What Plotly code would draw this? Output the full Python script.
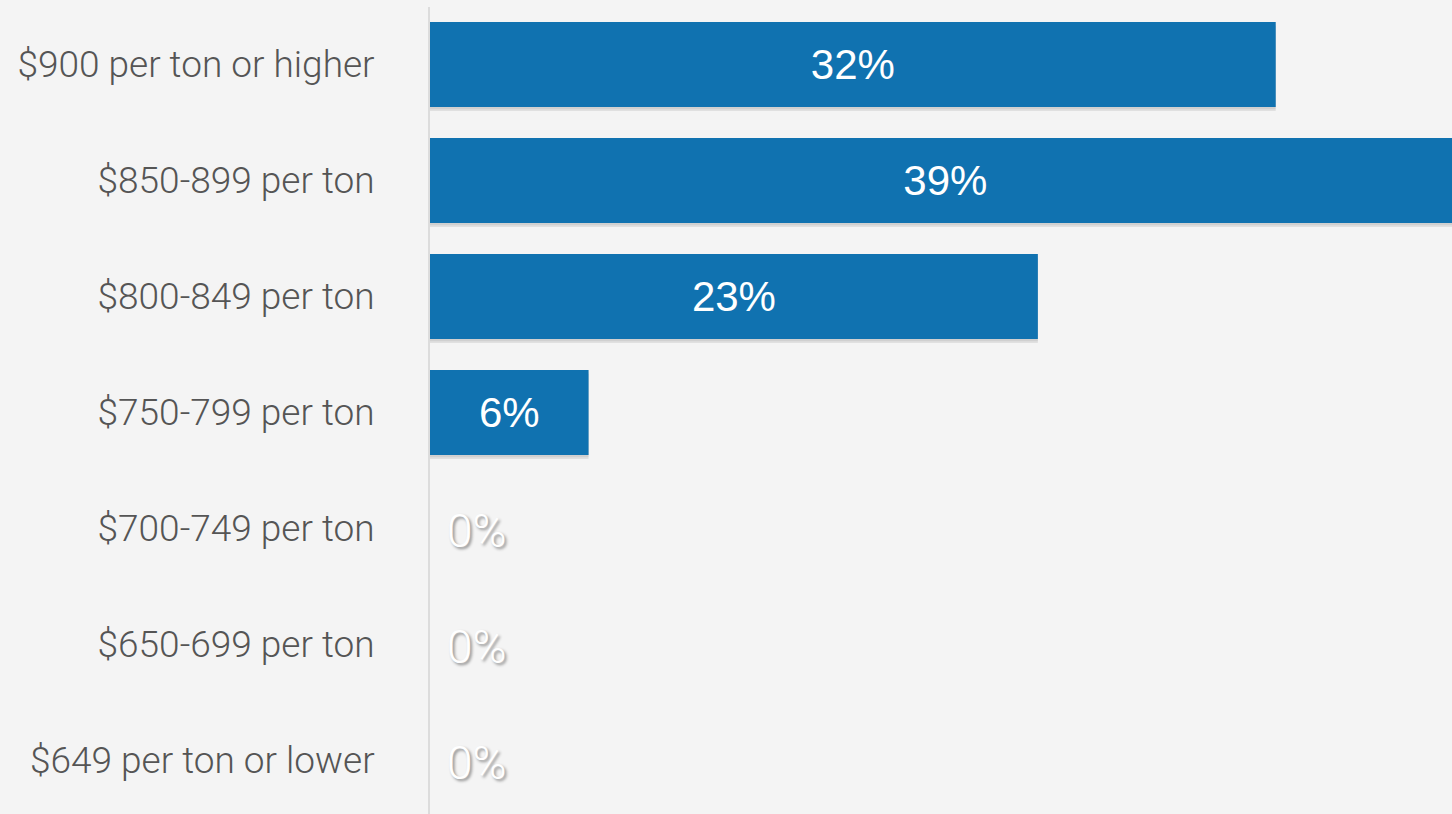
import plotly.graph_objects as go

categories = [
    "$900 per ton or higher",
    "$850-899 per ton",
    "$800-849 per ton",
    "$750-799 per ton",
    "$700-749 per ton",
    "$650-699 per ton",
    "$649 per ton or lower",
]
values = [32, 39, 23, 6, 0, 0, 0]
labels = [f"{v}%" for v in values]

BAR = "#1072b0"
BG = "#f4f4f4"

fig = go.Figure()

# soft drop shadow behind bars
fig.add_trace(go.Bar(
    y=categories, x=values, orientation="h",
    marker=dict(color="rgba(0,0,0,0.08)", line=dict(width=0)),
    width=0.733, offset=-0.3665 + 0.035,
    hoverinfo="skip", showlegend=False,
))
fig.add_trace(go.Bar(
    y=categories, x=values, orientation="h",
    marker=dict(color="rgba(0,0,0,0.07)", line=dict(width=0)),
    width=0.733, offset=-0.3665 + 0.02,
    hoverinfo="skip", showlegend=False,
))

fig.add_trace(go.Bar(
    y=categories, x=values,
    orientation="h",
    marker=dict(color=BAR, line=dict(width=0)),
    width=0.733, offset=-0.3665,
    text=[l if v > 0 else "" for l, v in zip(labels, values)],
    textposition="inside", insidetextanchor="middle",
    insidetextfont=dict(family="Liberation Sans", size=42, color="white"),
    cliponaxis=True,
    hoverinfo="skip", showlegend=False,
))

for c, v, l in zip(categories, values, labels):
    if v == 0:
        fig.add_annotation(
            x=v, y=c, text=l, showarrow=False, xanchor="left", xshift=15, yshift=-2,
            font=dict(family="Roboto", weight=300, size=46, color="#ffffff",
                      shadow="2px 2px 3px #8a8a8a"),
        )

fig.update_layout(
    width=1452, height=814,
    margin=dict(l=430, r=0, t=7, b=0),
    paper_bgcolor=BG, plot_bgcolor=BG,
    barmode="overlay",
    xaxis=dict(range=[0, 38.67], visible=False, fixedrange=True),
    yaxis=dict(
        type="category", categoryorder="array", categoryarray=categories,
        range=[6.461, -0.496],
        showline=True, linecolor="#dcdcdc", linewidth=2,
        showgrid=False, zeroline=False,
        ticks="", ticklabelstandoff=46,
        tickfont=dict(family="Roboto", weight=300, size=37, color="#555555"),
    ),
)

fig.write_html("out.html")
